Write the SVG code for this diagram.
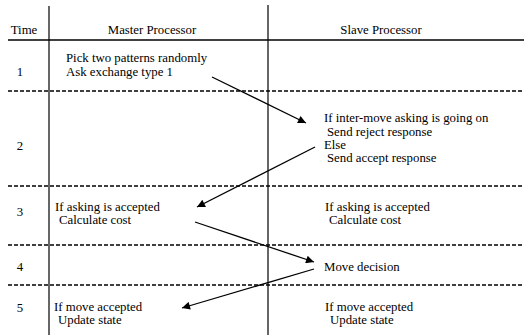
<svg xmlns="http://www.w3.org/2000/svg" width="524" height="335" viewBox="0 0 524 335">
<style>
text{font-family:"Liberation Serif","Times New Roman",serif;font-size:12.8px;fill:#000}
.c{text-anchor:middle}
.solid{stroke:#000;stroke-width:1.2;fill:none}
.dash{stroke:#000;stroke-width:1.3;stroke-dasharray:4 2;fill:none}
.arr{stroke:#000;stroke-width:1.3;fill:none;marker-end:url(#ah)}
</style>
<defs>
<marker id="ah" viewBox="0 0 10 10" refX="10" refY="5" markerWidth="11" markerHeight="8" markerUnits="userSpaceOnUse" orient="auto">
<path d="M0,0 L10,5 L0,10 Z" fill="#000"/>
</marker>
</defs>
<rect width="524" height="335" fill="#fff"/>
<g id="grid">
<line class="solid" x1="49" y1="6" x2="49" y2="335"/>
<line class="solid" x1="268" y1="5" x2="268" y2="335"/>
<line class="solid" x1="8" y1="40" x2="524" y2="40" style="stroke-width:1.4"/>
<line class="dash" x1="8" y1="91" x2="524" y2="91"/>
<line class="dash" x1="8" y1="186" x2="524" y2="186"/>
<line class="dash" x1="8" y1="245" x2="524" y2="245"/>
<line class="dash" x1="8" y1="285" x2="524" y2="285"/>
</g>
<g id="header">
<text class="c" x="24" y="34">Time</text>
<text class="c" x="152" y="34">Master Processor</text>
<text class="c" x="381" y="34">Slave Processor</text>
</g>
<g id="time-col">
<text class="c" x="20" y="76">1</text>
<text class="c" x="20" y="150">2</text>
<text class="c" x="20" y="216">3</text>
<text class="c" x="20" y="271">4</text>
<text class="c" x="20" y="312">5</text>
</g>
<g id="m1"><text x="66" y="62">Pick two patterns randomly</text><text x="66" y="76">Ask exchange type 1</text></g>
<g id="s2"><text x="324" y="122">If inter-move asking is going on</text><text x="327" y="136">Send reject response</text><text x="324" y="149">Else</text><text x="327" y="162">Send accept response</text></g>
<g id="m3"><text x="55" y="211">If asking is accepted</text><text x="59" y="224">Calculate cost</text></g>
<g id="s3"><text x="325" y="211">If asking is accepted</text><text x="329" y="224">Calculate cost</text></g>
<g id="s4"><text x="324" y="271">Move decision</text></g>
<g id="m5"><text x="54" y="311">If move accepted</text><text x="58" y="324">Update state</text></g>
<g id="s5"><text x="325" y="311">If move accepted</text><text x="330" y="324">Update state</text></g>
<g id="connectors">
<line class="arr" x1="212" y1="77" x2="306" y2="123"/>
<line class="arr" x1="315" y1="147" x2="197" y2="207"/>
<line class="arr" x1="195" y1="222" x2="314" y2="262"/>
<line class="arr" x1="314" y1="269" x2="182" y2="308"/>
</g>
</svg>
